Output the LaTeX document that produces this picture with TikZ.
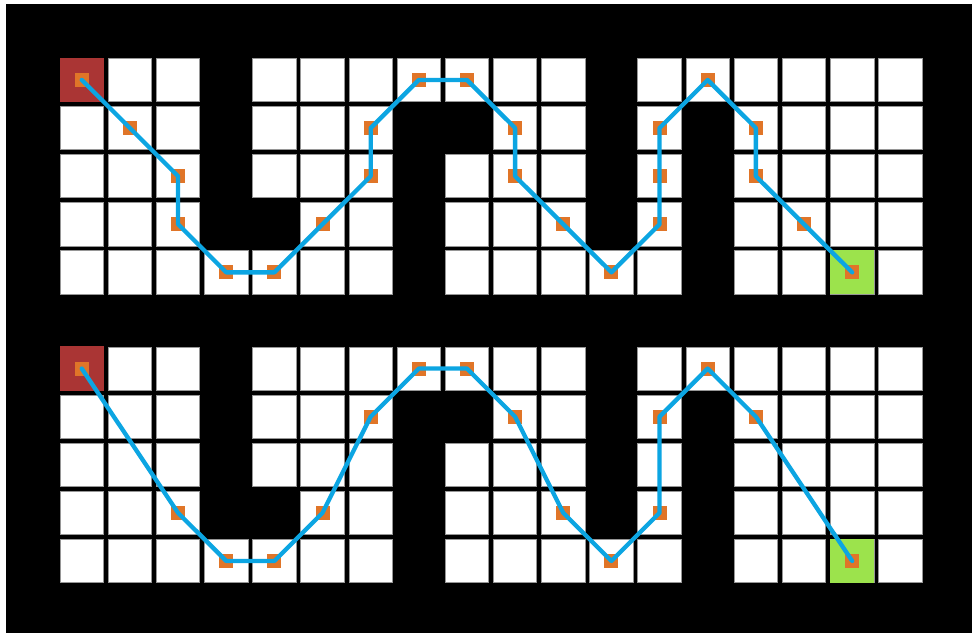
\documentclass[tikz,border=0pt]{standalone}
\definecolor{startred}{RGB}{170,53,52}
\definecolor{goalgreen}{RGB}{156,227,76}
\definecolor{markorange}{RGB}{224,117,40}
\definecolor{routeblue}{RGB}{12,165,226}
\definecolor{cellgray}{RGB}{150,150,150}
\tikzset{
  cellbox/.style={draw=cellgray, line width=0.8pt, fill=white, minimum width=43.5pt, minimum height=43.3pt, inner sep=0pt, outer sep=0pt},
  obstbox/.style={fill=black, minimum width=46pt, minimum height=46pt, inner sep=0pt, outer sep=0pt},
  startbox/.style={fill=startred, minimum width=44.4pt, minimum height=44.2pt, inner sep=0pt},
  goalbox/.style={fill=goalgreen, minimum width=44.4pt, minimum height=44.2pt, inner sep=0pt},
  marker/.style={fill=markorange, minimum size=14pt, inner sep=0pt, outer sep=0pt},
  route/.style={draw=routeblue, line width=4.3pt, line join=round, line cap=round}
}
\begin{document}
\begin{tikzpicture}[x=1pt, y=-1pt]
\useasboundingbox (0,0) rectangle (972,633);
\fill[white] (0,0) rectangle (972,633);
\fill[black] (6,4) rectangle (972,633);
% cells
\foreach \r in {0,1,2,3,4,6,7,8,9,10}{
  \foreach \c in {0,...,17}{
    \node[cellbox] (cell-\r-\c) at ({81.75+48.15*\c},{79.95+48.1*\r}) {};
  }
}
% obstacles (same layout in both grids)
\foreach \c/\r in {3/0,3/1,3/2,3/3,4/3,7/1,7/2,7/3,7/4,8/1,11/0,11/1,11/2,11/3,13/1,13/2,13/3,13/4}{
  \node[obstbox] (obst-\r-\c) at (cell-\r-\c.center) {};
  \pgfmathtruncatemacro{\rr}{\r+6}
  \node[obstbox] (obst-\rr-\c) at (cell-\rr-\c.center) {};
}
% start and goal
\node[startbox] (startA) at (cell-0-0.center) {};
\node[goalbox] (goalA) at (cell-4-16.center) {};
\node[startbox] (startB) at (cell-6-0.center) {};
\node[goalbox] (goalB) at (cell-10-16.center) {};
% top path markers
\foreach \c/\r [count=\i from 0] in {0/0,1/1,2/2,2/3,3/4,4/4,5/3,6/2,6/1,7/0,8/0,9/1,9/2,10/3,11/4,12/3,12/2,12/1,13/0,14/1,14/2,15/3,16/4}{
  \node[marker] (a\i) at (cell-\r-\c.center) {};
}
\draw[route] (a0.center) \foreach \i in {1,...,22}{ -- (a\i.center) };
% bottom path markers
\foreach \c/\r [count=\i from 0] in {0/6,2/9,3/10,4/10,5/9,6/7,7/6,8/6,9/7,10/9,11/10,12/9,12/7,13/6,14/7,16/10}{
  \node[marker] (b\i) at (cell-\r-\c.center) {};
}
\draw[route] (b0.center) \foreach \i in {1,...,15}{ -- (b\i.center) };
\end{tikzpicture}
\end{document}
